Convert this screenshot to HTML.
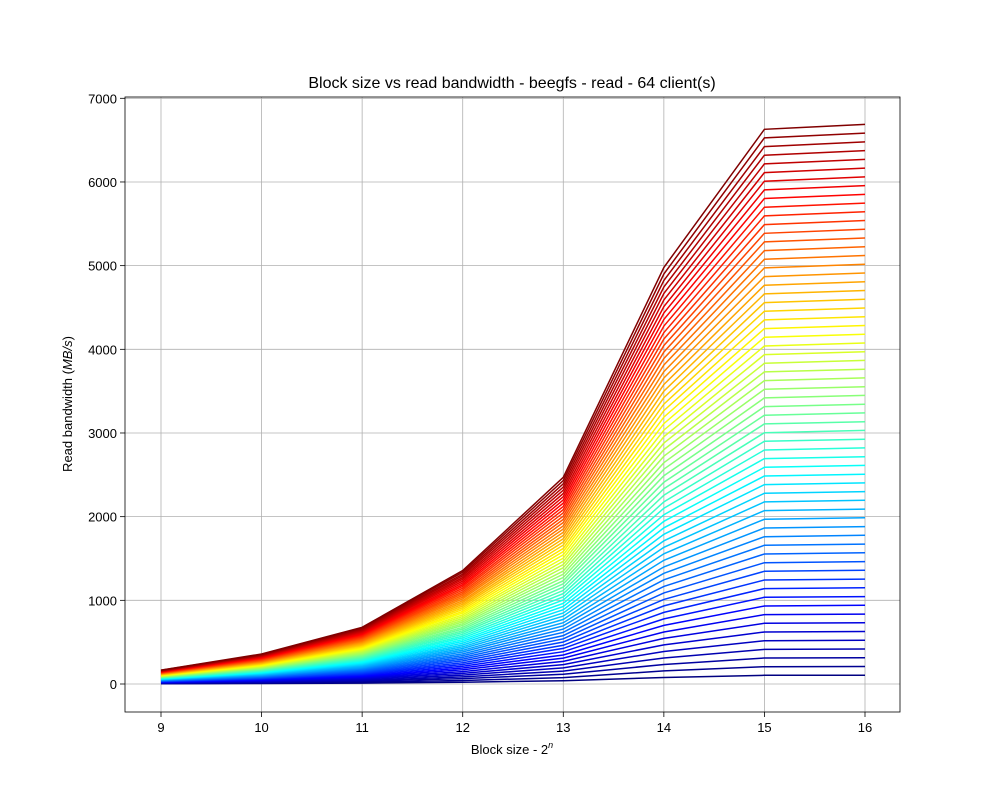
<!DOCTYPE html>
<html><head><meta charset="utf-8"><style>
body{margin:0;background:#fff;}
svg text{font-family:"Liberation Sans","DejaVu Sans",sans-serif;fill:#000;}
</style></head><body>
<svg id="chart" width="1000" height="800" viewBox="0 0 1000 800" xmlns="http://www.w3.org/2000/svg">
<rect width="1000" height="800" fill="#fff"/>
<g id="grid"></g><g id="lines"></g><g id="axes"></g>
</svg>
<script>
const blockSizes=[9,10,11,12,13,14,15,16];
const yTicks=[0,1000,2000,3000,4000,5000,6000,7000];
const v9=[3,5,8,10,13,16,18,21,23,26,29,31,34,36,39,42,44,47,49,52,55,57,60,62,65,68,70,73,75,78,81,83,86,88,91,94,96,99,101,104,107,109,112,114,117,120,122,125,127,130,133,135,138,140,143,146,148,151,153,156,159,161,164,166];
const v10=[6,11,17,22,28,34,39,45,50,56,62,67,73,78,84,90,95,101,106,112,118,123,129,134,140,146,151,157,162,168,174,179,185,190,196,202,207,213,218,224,230,235,241,246,252,258,263,269,274,280,286,291,297,302,308,314,319,325,330,336,342,347,353,358];
const v11=[11,21,32,42,53,64,74,85,95,106,117,127,138,148,159,170,180,191,201,212,223,233,244,254,265,276,286,297,307,318,329,339,350,360,371,382,392,403,413,424,435,445,456,466,477,488,498,509,519,530,541,551,562,572,583,594,604,615,625,636,647,657,668,678];
const v12=[21,42,64,85,106,127,148,170,191,212,233,254,276,297,318,339,360,382,403,424,445,466,488,509,530,551,572,594,615,636,657,678,700,721,742,763,784,806,827,848,869,890,912,933,954,975,996,1018,1039,1060,1081,1102,1124,1145,1166,1187,1208,1230,1251,1272,1293,1314,1336,1357];
const v13=[39,77,116,154,193,232,270,309,347,386,425,463,502,540,579,618,656,695,733,772,811,849,888,926,965,1004,1042,1081,1119,1158,1197,1235,1274,1312,1351,1390,1428,1467,1505,1544,1583,1621,1660,1698,1737,1776,1814,1853,1891,1930,1969,2007,2046,2084,2123,2162,2200,2239,2277,2316,2355,2393,2432,2470];
const v14=[78,156,233,311,389,467,545,622,700,778,856,934,1011,1089,1167,1245,1323,1400,1478,1556,1634,1712,1789,1867,1945,2023,2101,2178,2256,2334,2412,2490,2567,2645,2723,2801,2879,2956,3034,3112,3190,3268,3345,3423,3501,3579,3657,3734,3812,3890,3968,4046,4123,4201,4279,4357,4435,4512,4590,4668,4746,4824,4901,4979];
const v15=[104,207,311,414,518,622,725,829,932,1036,1140,1243,1347,1450,1554,1658,1761,1865,1968,2072,2176,2279,2383,2486,2590,2694,2797,2901,3004,3108,3212,3315,3419,3522,3626,3730,3833,3937,4040,4144,4248,4351,4455,4558,4662,4766,4869,4973,5076,5180,5284,5387,5491,5594,5698,5802,5905,6009,6112,6216,6320,6423,6527,6630];
const v16=[105,209,314,418,523,627,732,836,941,1045,1150,1254,1359,1463,1568,1672,1777,1881,1986,2090,2195,2299,2404,2508,2613,2717,2822,2926,3031,3135,3240,3344,3449,3553,3658,3762,3867,3971,4076,4180,4285,4389,4494,4598,4703,4807,4912,5016,5121,5225,5330,5434,5539,5643,5748,5852,5957,6061,6166,6270,6375,6479,6584,6688];
const columns=[v9,v10,v11,v12,v13,v14,v15,v16];

const L=125,R=900,T=97,B=712;
const xs=v=>161+(v-9)*(865-161)/7;
const ys=v=>684-v*(684-98.3)/7000;
const NS="http://www.w3.org/2000/svg";
function mk(tag,attrs,parent){const e=document.createElementNS(NS,tag);for(const k in attrs)e.setAttribute(k,attrs[k]);parent.appendChild(e);return e;}
const grid=document.getElementById('grid'),lines=document.getElementById('lines'),axes=document.getElementById('axes');
function jet(x){const c=t=>Math.round(255*Math.max(0,Math.min(1,1.5-Math.abs(4*x-t))));return `rgb(${c(3)},${c(2)},${c(1)})`;}

blockSizes.forEach(b=>{
  const g=mk('line',{x1:xs(b),x2:xs(b),y1:T,y2:B,stroke:'#b0b0b0','stroke-width':0.8},grid);
  
  
});
yTicks.forEach(t=>{
  const g=mk('line',{x1:L,x2:R,y1:ys(t),y2:ys(t),stroke:'#b0b0b0','stroke-width':0.8},grid);
  
  
});
const n=v9.length;
for(let i=0;i<n;i++){
  const pts=blockSizes.map((b,j)=>xs(b).toFixed(1)+','+ys(columns[j][i]).toFixed(1)).join(' ');
  const pl=mk('polyline',{points:pts,fill:'none',stroke:jet(i/(n-1)),'stroke-width':1.5},lines);
  
  
}
const frame=mk('rect',{x:L,y:T,width:R-L,height:B-T,fill:'none',stroke:'#000','stroke-width':0.8},axes);


blockSizes.forEach(b=>{
  mk('line',{x1:xs(b),x2:xs(b),y1:B,y2:B+5,stroke:'#000','stroke-width':0.8},axes);
  const t=mk('text',{x:xs(b),y:B+20,'text-anchor':'middle','font-size':13},axes);
  t.textContent=b;
  
  
});
yTicks.forEach(v=>{
  mk('line',{x1:L-5,x2:L,y1:ys(v),y2:ys(v),stroke:'#000','stroke-width':0.8},axes);
  const t=mk('text',{x:L-8,y:ys(v)+5,'text-anchor':'end','font-size':13},axes);
  t.textContent=v;
  
  
});
</script>
<svg style="position:absolute;left:0;top:0" width="1000" height="800">
<text x="512" y="88" text-anchor="middle" font-size="16">Block size vs read bandwidth - beegfs - read - 64 client(s)</text>
<text x="512" y="754" text-anchor="middle" font-size="13">Block size - 2<tspan font-style="italic" font-size="9" dy="-6">n</tspan></text>
<text transform="translate(72,404) rotate(-90)" text-anchor="middle" font-size="13">Read bandwidth (<tspan font-style="italic">MB/s</tspan>)</text>
</svg>
</body></html>
